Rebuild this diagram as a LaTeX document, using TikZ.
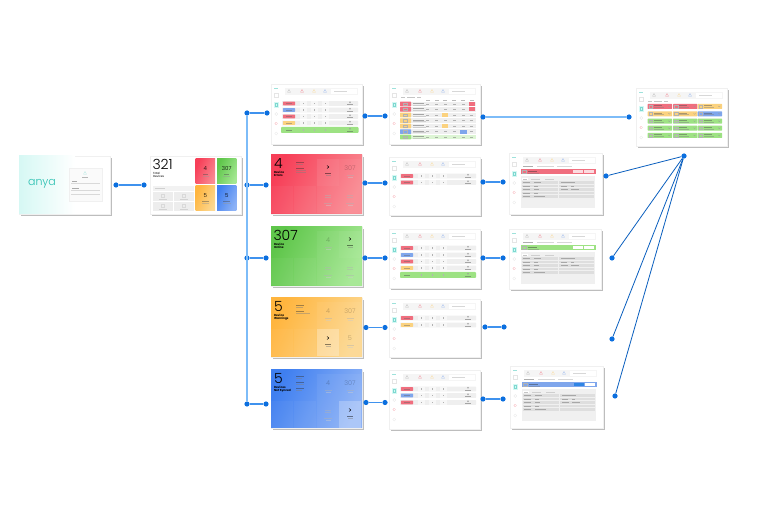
\documentclass[tikz,border=0pt]{standalone}
\usepackage{fontspec}
\setmainfont{Poppins}
\newfontfamily\lightf{Poppins}[UprightFont=* Light]
\usetikzlibrary{calc}
\definecolor{shadowc}{HTML}{BDBDBD}
\definecolor{dotc}{HTML}{0B6FDF}
\definecolor{linec}{HTML}{3F92EE}
\definecolor{busc}{HTML}{7DBCF8}
\definecolor{rowc}{HTML}{EFEFEF}
\definecolor{pr}{HTML}{F06E7E}
\definecolor{pb}{HTML}{7FA6EC}
\definecolor{po}{HTML}{FBD27F}
\definecolor{pg}{HTML}{9DE283}
\definecolor{teal}{HTML}{28BFB0}
\definecolor{tealb}{HTML}{D6F8F4}
\definecolor{ic}{HTML}{A8A8A8}
\definecolor{ra}{HTML}{F73F58}\definecolor{rb}{HTML}{F98A92}
\definecolor{ga}{HTML}{5FC64B}\definecolor{gb}{HTML}{A4E792}
\definecolor{oa}{HTML}{FFB53E}\definecolor{ob}{HTML}{FCD892}
\definecolor{ba}{HTML}{3F7FF0}\definecolor{bb}{HTML}{8DB2F6}
\tikzset{
  scrbox/.style={fill=white,draw=black!6,line width=.4pt,inner sep=0,outer sep=0,anchor=north west},
  dotn/.style={circle,fill=dotc,inner sep=0,minimum size=5.2pt},
  conn/.style={draw=linec,line width=1.1pt},
  bus/.style={draw=busc,line width=1.8pt},
  fan/.style={draw=dotc!85!black,line width=.8pt},
  txt/.style={inner sep=0,outer sep=0},
  lab/.style={inner sep=0,outer sep=0,anchor=north west,align=left,font=\bfseries\fontsize{2.9}{3}\selectfont},
  grad/.style 2 args={shading=axis,left color=#1,right color=#2,shading angle=65},
}
% bar: x y len
\newcommand\myb[4][ic]{\fill[#1,opacity=.45] (#2,#3-.25) rectangle ++(#4,.5);}
\newcommand\myscr[5]{%
  \fill[shadowc] (#2+2,#3+2) rectangle ++(#4,#5);
  \node[scrbox,minimum width=#4pt,minimum height=#5pt] (#1) at (#2,#3) {};}
\newcommand\myicon[3]{\draw[#3,line width=.3pt,opacity=.7] (#1-1.5,#2+1.3) -- (#1,#2-1.5) -- (#1+1.5,#2+1.3) -- cycle;}
\newcommand\mychrome{%
  \myb[teal]{3}{4.5}{4}
  \draw[ic!30,line width=.25pt] (3.5,9.5) rectangle (7,13);
  \fill[tealb] (2.5,18) rectangle (8,24);
  \draw[teal!60,line width=.25pt] (4,19.5) rectangle (6.5,22.5);
  \draw[ic!40,line width=.25pt] (5.2,30) circle (1.5);
  \draw[pr!50,line width=.25pt] (5.2,39.5) circle (1.3);
  \draw[ic!30,line width=.25pt] (5.2,49.5) circle (1.5);
  \fill[black!4] (14,4) rectangle (87,11);
  \myicon{18}{7}{ic}\myicon{31}{7}{pr}\myicon{43}{7}{po}\myicon{54}{7}{pb}
  \fill[white] (60,5) rectangle (86,10);
  \myb{63}{7.5}{13}}
\newcommand\mysrow[3][rowc]{%
  \fill[#1,rounded corners=.6pt] (11,#2-2.4) rectangle (87,#2+2.4);
  \fill[#3,rounded corners=.6pt] (12,#2-1.9) rectangle (24,#2+1.9);
  \myb[black!60]{15}{#2}{6}
  \fill[white,opacity=.55] (29,#2-2.4) rectangle (36,#2+2.4);
  \fill[white,opacity=.55] (40,#2-2.4) rectangle (47,#2+2.4);
  \fill[white,opacity=.55] (51,#2-2.4) rectangle (58,#2+2.4);
  \fill[black!30] (32,#2-.8) rectangle ++(.7,1.6);
  \fill[black!30] (43,#2-.8) rectangle ++(.7,1.6);
  \fill[black!30] (54,#2-.8) rectangle ++(.7,1.6);
  \myb[black!70]{76}{#2+.9}{6}
  \draw[black!40,line width=.25pt] (79,#2-1.2) circle (.7);}
\newcommand\mytrow[2]{%
  \fill[rowc] (11,#1-2.3) rectangle (87,#1+2.3);
  \fill[#2,rounded corners=.5pt] (11,#1-2.3) rectangle (22,#1+2.3);
  \draw[black!30,line width=.2pt] (14.5,#1-1.2) rectangle (18,#1+1.2);
  \myb[black!70]{24}{#1-.8}{11}\myb{24}{#1+.8}{13}
  \foreach \cx in {38.7,47.7,56,65,74,82.7} {\myb[black!60]{\cx-1.5}{#1}{3}}}
\newcommand\mytile[3]{%
  \fill[#3,rounded corners=.5pt] (#1,#2) rectangle ++(24.3,5);
  \draw[black!30,line width=.2pt] (#1+1.2,#2+1.2) rectangle ++(3.5,2.6);
  \myb[black!70]{#1+6}{#2+1.6}{8}\myb[black!50]{#1+6}{#2+3.2}{10}
  \draw[black!40,line width=.2pt] (#1+20.6,#2+2) -- ++(1,1) -- ++(1,-1);}
\newcommand\mycard[3]{\fill[white,opacity=#3] (#1,#2) rectangle ++(21.5,27);}
\newcommand\mynum[3]{\node[txt,black,text opacity=.25,font=\lightf\fontsize{6.5}{6.5}\selectfont] at (#1,#2) {#3};
  \myb[black!30]{#1-3.5}{#2+7}{7}\myb[black!20]{#1-2.5}{#2+9}{5}}
\newcommand\mychev[2]{\draw[black,line width=.45pt] (#1-1,#2-1.5) -- (#1+.8,#2) -- (#1-1,#2+1.5);
  \myb[black]{#1-3}{#2+6}{6}\myb[black!50]{#1-2.5}{#2+8}{5}}
\newcommand\mybars[2]{\myb[black!30]{#1-3}{#2-1}{6}\myb[black!30]{#1-3}{#2+1}{6}\myb[black!30]{#1-4}{#2+7}{8}\myb[black!20]{#1-2.5}{#2+9}{5}}
\newcommand\mykpi[6]{% x y h c1 c2 name
  \fill[shadowc] (#1+2,#2+2) rectangle ++(91,#3);
  \node[scrbox,minimum width=91pt,minimum height=#3pt] (#6) at (#1,#2) {};
  \shade[grad={#4}{#5}] (#1,#2) rectangle ++(91,#3);}
\newcommand\mydetail[3]{% banner colour, button1, button2
  \myb[black!70]{14}{13}{10}\myb{28}{13}{17}\myb{48}{13}{15}
  \fill[#1] (12,16) rectangle (87,21.5);
  \draw[black!30,line width=.2pt] (13.5,17.2) rectangle ++(4,3);
  \myb[black!80]{19}{18}{9}\myb[black!50]{19}{19.8}{11}
  \fill[#2] (64,17) rectangle ++(10,3);
  \fill[#3] (75,17) rectangle ++(10,3);
  \fill[black!6] (12,23) rectangle (86,55);
  \fill[white] (13,24.8) rectangle ++(6,2.6);
  \myb[black!50]{14}{26}{4}\myb{22}{26}{9}\myb{36}{26}{9}
  \foreach \ry in {29.5,33,36.5,40,43.5} {
    \fill[black!13] (13,\ry-1.3) rectangle (49,\ry+1.3);
    \fill[black!13] (50,\ry-1.3) rectangle (85,\ry+1.3);
    \myb[black!60]{14}{\ry}{7}}
  \myb[black!60]{25}{29.5}{7}\myb[black!60]{25}{33}{4}\myb[black!60]{25}{36.5}{5}\myb[black!60]{25}{40}{4}\myb[black!60]{25}{43.5}{11}
  \myb[black!60]{52}{29.5}{14}\myb[black!60]{52}{33}{6}\myb[black!60]{62}{33}{3}\myb[black!60]{52}{36.5}{7}\myb[black!60]{62}{36.5}{8}}
\begin{document}
\begin{tikzpicture}[x=1pt,y=-1pt]
\useasboundingbox (0,0) rectangle (758,510);
\fill[white] (0,0) rectangle (758,510);
% ---------- login
\myscr{login}{19}{156}{91}{58}
\shade[left color=tealb,right color=white] (19,156) rectangle (75,214);
\node[txt,teal,font=\lightf\fontsize{11}{11}\selectfont] (brand) at (42,184) {anya};
\begin{scope}[shift={(69,168)}]
  \fill[black!2] (0,0) rectangle (33,33);
  \draw[black!6,line width=.3pt] (0,0) rectangle (33,33);
  \myicon{16}{5}{teal!50}
  \myb[black!60]{13}{9.5}{6}
  \myb[black!70]{3}{13}{5}
  \draw[black!15,line width=.25pt] (2,15) -- (31,15);
  \draw[black!15,line width=.25pt] (2,22) -- (31,22);
  \myb[black!70]{3}{20}{7}
  \draw[black!15,line width=.25pt] (2,26) -- (31,26);
\end{scope}
% ---------- dashboard
\myscr{dash}{150}{156}{91}{58}
\begin{scope}[shift={(150,156)}]
  \node[txt,black,anchor=base west,font=\lightf\fontsize{14}{14}\selectfont] (total) at (2.5,14) {321};
  \node[lab,font=\fontsize{2.9}{3}\selectfont] (totall) at (3,16.5) {Total\\Devices};
  \fill[black!5] (3,30) rectangle (44,35);
  \myb{5}{32.5}{10}
  \foreach \tx/\ty in {3/36,24/36,3/46,24/46}{\fill[black!7] (\tx,\ty) rectangle ++(20,9);
    \draw[black!15,line width=.25pt] (\tx+8.5,\ty+2) rectangle ++(3,3);\myb[black!30]{\tx+6}{\ty+7}{8}}
  \shade[grad={ra}{rb}] (45.7,3) rectangle ++(19.3,25);
  \shade[grad={ga}{gb}] (67,3) rectangle ++(19.3,25);
  \shade[grad={oa}{ob}] (45.7,30) rectangle ++(19.3,25);
  \shade[grad={ba}{bb}] (67,30) rectangle ++(19.3,25);
  \node[txt,font=\lightf\fontsize{5.5}{5.5}\selectfont] (n1) at (55.3,13) {4};
  \node[txt,font=\lightf\fontsize{5.5}{5.5}\selectfont] (n2) at (76.7,13) {307};
  \node[txt,font=\lightf\fontsize{5.5}{5.5}\selectfont] (n3) at (55.3,40) {5};
  \node[txt,font=\lightf\fontsize{5.5}{5.5}\selectfont] (n4) at (76.7,40) {5};
  \myb[black!70]{53}{18}{5}\myb[black!70]{74}{18}{5}
  \myb[black!70]{52}{45}{7}\myb[black!70]{73}{45}{7}
  \myb[black!40]{52.5}{20}{6}\myb[black!40]{73}{20}{7}\myb[black!40]{52}{47}{7}\myb[black!40]{72.5}{47}{8}
\end{scope}
% ---------- column 1
\myscr{listall}{271}{84}{91}{60}
\begin{scope}[shift={(271,84)}]
  \mychrome
  \mysrow{19.5}{pr}\mysrow{26}{pb}\mysrow{32.5}{pr}\mysrow{39}{po}
  \fill[pg,rounded corners=.8pt] (10,43) rectangle (87.5,49);
  \myb[black!70]{15}{46}{6}
  \foreach \cx in {32,43,54}{\fill[black!30] (\cx,45.2) rectangle ++(.7,1.6);}
  \myb[black!70]{76}{46.9}{6}\draw[black!40,line width=.25pt] (79,44.8) circle (.7);
\end{scope}
% red
\mykpi{271}{155}{59}{ra}{rb}{kred}
\begin{scope}[shift={(271,155)}]
  \foreach \ix in {0,23}{\fill[white,opacity=.04] (\ix,31) rectangle ++(22.3,27);}
  \mycard{46}{4}{.08}\mycard{68}{4}{.05}\mycard{46}{31}{.05}\mycard{68}{31}{.05}
  \mychev{57}{12}\mynum{79}{13}{307}\mybars{57}{41}\mybars{79}{41}
  \node[txt,anchor=base west,font=\lightf\fontsize{14}{14}\selectfont] (kr) at (3,14) {4};
  \node[lab] (krl) at (3,16.5) {Device\\Errors};
  \myb[black!80]{25}{7}{8}\myb[black!50]{25}{9}{7}
  \myb[black!80]{25}{13}{8}\myb[black!50]{25}{15}{10}\myb[black!50]{25}{17}{10}
\end{scope}
% green
\mykpi{271}{227}{59}{ga}{gb}{kgreen}
\begin{scope}[shift={(271,227)}]
  \foreach \ix in {0,23}{\fill[white,opacity=.04] (\ix,31) rectangle ++(22.3,27);}
  \mycard{46}{4}{.05}\mycard{68}{4}{.08}\mycard{46}{31}{.05}\mycard{68}{31}{.05}
  \mynum{57}{13}{4}\mychev{79}{12}\mybars{57}{41}\mybars{79}{41}
  \node[txt,anchor=base west,font=\lightf\fontsize{14}{14}\selectfont] (kg) at (2.5,14) {307};
  \node[lab] (kgl) at (3,16.5) {Device\\Online};
\end{scope}
% orange
\mykpi{271}{298}{59}{oa}{ob}{korange}
\begin{scope}[shift={(271,298)}]
  \foreach \ix in {0,23}{\fill[white,opacity=.04] (\ix,31) rectangle ++(22.3,27);}
  \mycard{46}{4}{.05}\mycard{68}{4}{.05}\mycard{46}{31}{.3}\mycard{68}{31}{.05}
  \mynum{57}{13}{4}\mynum{79}{13}{307}\mychev{57}{40}\mynum{79}{40}{5}
  \node[txt,anchor=base west,font=\lightf\fontsize{14}{14}\selectfont] (ko) at (3,14) {5};
  \node[lab] (kol) at (3,16.5) {Device\\Warnings};
  \myb[black!80]{25}{7}{8}\myb[black!50]{25}{9}{7}
  \myb[black!80]{25}{13}{8}\myb[black!50]{25}{15}{14}
\end{scope}
% blue
\mykpi{271}{370}{58}{ba}{bb}{kblue}
\begin{scope}[shift={(271,370)}]
  \foreach \ix in {0,23}{\fill[white,opacity=.04] (\ix,31) rectangle ++(22.3,27);}
  \mycard{46}{4}{.05}\mycard{68}{4}{.05}\mycard{46}{31}{.05}\mycard{68}{31}{.28}
  \mynum{57}{13}{4}\mynum{79}{13}{307}\mybars{57}{41}\mychev{79}{40}
  \node[txt,anchor=base west,font=\lightf\fontsize{14}{14}\selectfont] (kb) at (3,14) {5};
  \node[lab] (kbl) at (3,16.5) {Devices\\Not Synced};
  \myb[black!80]{25}{6}{8}\myb[black!50]{25}{8}{6}
  \myb[black!80]{25}{12}{8}\myb[black!50]{25}{14}{8}
  \myb[black!80]{25}{18}{8}\myb[black!50]{25}{20}{6}
\end{scope}
% ---------- column 2
\myscr{tableall}{389}{84}{91}{60}
\begin{scope}[shift={(389,84)}]
  \mychrome
  \myb[black!50]{12}{13.5}{4}\myb[black!50]{18}{13.5}{8}\myb[black!50]{28}{13.5}{4}
  \foreach \cx in {38.7,47.7,56,65,74,82.7}{\myb[black!60]{\cx-2}{16.5}{4}}
  \mytrow{20}{pr}\mytrow{25.3}{pr}\mytrow{31}{po}\mytrow{36.7}{po}\mytrow{42}{po}\mytrow{47.7}{pb}
  \fill[pg!35] (11,50.7) rectangle (87,55.3);
  \fill[pg,rounded corners=.5pt] (11,50.7) rectangle (22,55.3);
  \draw[black!30,line width=.2pt] (14.5,51.8) rectangle (18,54.2);
  \myb[black!70]{24}{52.2}{11}\myb{24}{53.8}{13}
  \foreach \cx in {38.7,47.7,56,65,74,82.7} {\myb[black!60]{\cx-1.5}{53}{3}}
  \fill[pr] (80,18) rectangle ++(5.5,4);\fill[pr] (80,23.3) rectangle ++(5.5,4);
  \fill[po] (53,29) rectangle ++(6,4);\fill[po] (53,40) rectangle ++(6,4);
  \fill[pb] (70.5,45.7) rectangle ++(7.5,4);
\end{scope}
\myscr{tablered}{389}{157}{91}{58}
\begin{scope}[shift={(389,157)}]
  \mychrome\mysrow{19}{pr}\mysrow{25.5}{pr}
\end{scope}
\myscr{tablegreen}{389}{229}{91}{59}
\begin{scope}[shift={(389,229)}]
  \mychrome\mysrow{19}{pr}\mysrow{26}{pb}\mysrow{32.5}{pr}\mysrow{39}{po}
  \fill[pg,rounded corners=.8pt] (11,43) rectangle (87,49);
  \myb[black!70]{15}{46}{6}
  \foreach \cx in {32,43,54}{\fill[black!30] (\cx,45.2) rectangle ++(.7,1.6);}
  \myb[black!70]{76}{46.9}{6}\draw[black!40,line width=.25pt] (79,44.8) circle (.7);
\end{scope}
\myscr{tableorange}{389}{299}{91}{58}
\begin{scope}[shift={(389,299)}]
  \mychrome\mysrow{19}{pr}\mysrow{26}{po}
\end{scope}
\myscr{tableblue}{389}{370}{91}{59}
\begin{scope}[shift={(389,370)}]
  \mychrome\mysrow{19}{pr}\mysrow{25.5}{pb}\mysrow{32.5}{pr}
\end{scope}
% ---------- column 3
\myscr{detailred}{509}{153}{93}{61}
\begin{scope}[shift={(509,153)}]
  \mychrome\mydetail{pr}{white!75!pr}{white!75!pr}
\end{scope}
\myscr{detailgreen}{509}{229}{92}{60}
\begin{scope}[shift={(509,229)}]
  \mychrome\mydetail{pg}{white}{white}
\end{scope}
\myscr{detailblue}{510}{366}{93}{62}
\begin{scope}[shift={(510,366)}]
  \mychrome\mydetail{pb}{dotc!85}{white}
\end{scope}
% ---------- final
\myscr{summary}{636}{88}{91}{58}
\begin{scope}[shift={(636,88)}]
  \mychrome
  \myb[black!50]{12}{13.5}{4}\myb[black!50]{18}{13.5}{8}\myb[black!50]{28}{13.5}{4}
  \mytile{11.7}{16}{pr}\mytile{37}{16}{pr}\mytile{61.7}{16}{po}
  \mytile{11.7}{23.3}{po}\mytile{37}{23.3}{po}\mytile{61.7}{23.3}{pb}
  \foreach \ry in {30.7,37.7,45}{\mytile{11.7}{\ry}{pg}\mytile{37}{\ry}{pg}\mytile{61.7}{\ry}{pg}}
\end{scope}
% ---------- connector dots
\foreach \n/\px/\py in {
  a1/116/185,a2/144/185,
  b0/247/185,bt/247/113,b1/267/113,b2/266/185,bg/247/258,b3/266/258,bm/247/404,b5/266/404,
  c1/365/116,c2/385/116,d1/365/183,d2/385/183,e1/365/258,e2/385/258,f1/366/327.5,f2/385/327.5,g1/366/402.5,g2/385/402.5,
  h1/483/117,h2/629/117,i1/483/182,i2/503/182,j1/483/258,j2/503/258,k1/485/327,k2/504/327,l1/483/399,l2/503/399,
  hub/684/156,m1/606/176,m2/612/258,m3/612/339,m4/615/396}
  {\node[dotn] (\n) at (\px,\py) {};}
\draw[bus] (bt) -- (bm);
\draw[conn] (a1) -- (a2);
\draw[conn] (bt) -- (b1);\draw[conn] (b0) -- (b2);\draw[conn] (bg) -- (b3);\draw[conn] (bm) -- (b5);
\draw[conn] (c1) -- (c2);\draw[conn] (d1) -- (d2);\draw[conn] (e1) -- (e2);\draw[conn] (f1) -- (f2);\draw[conn] (g1) -- (g2);
\draw[bus] (h1) -- (h2);
\draw[conn] (i1) -- (i2);\draw[conn] (j1) -- (j2);\draw[conn] (k1) -- (k2);\draw[conn] (l1) -- (l2);
\draw[fan] (hub) -- (m1);\draw[fan] (hub) -- (m2);\draw[fan] (hub) -- (m3);\draw[fan] (hub) -- (m4);
\end{tikzpicture}
\end{document}
